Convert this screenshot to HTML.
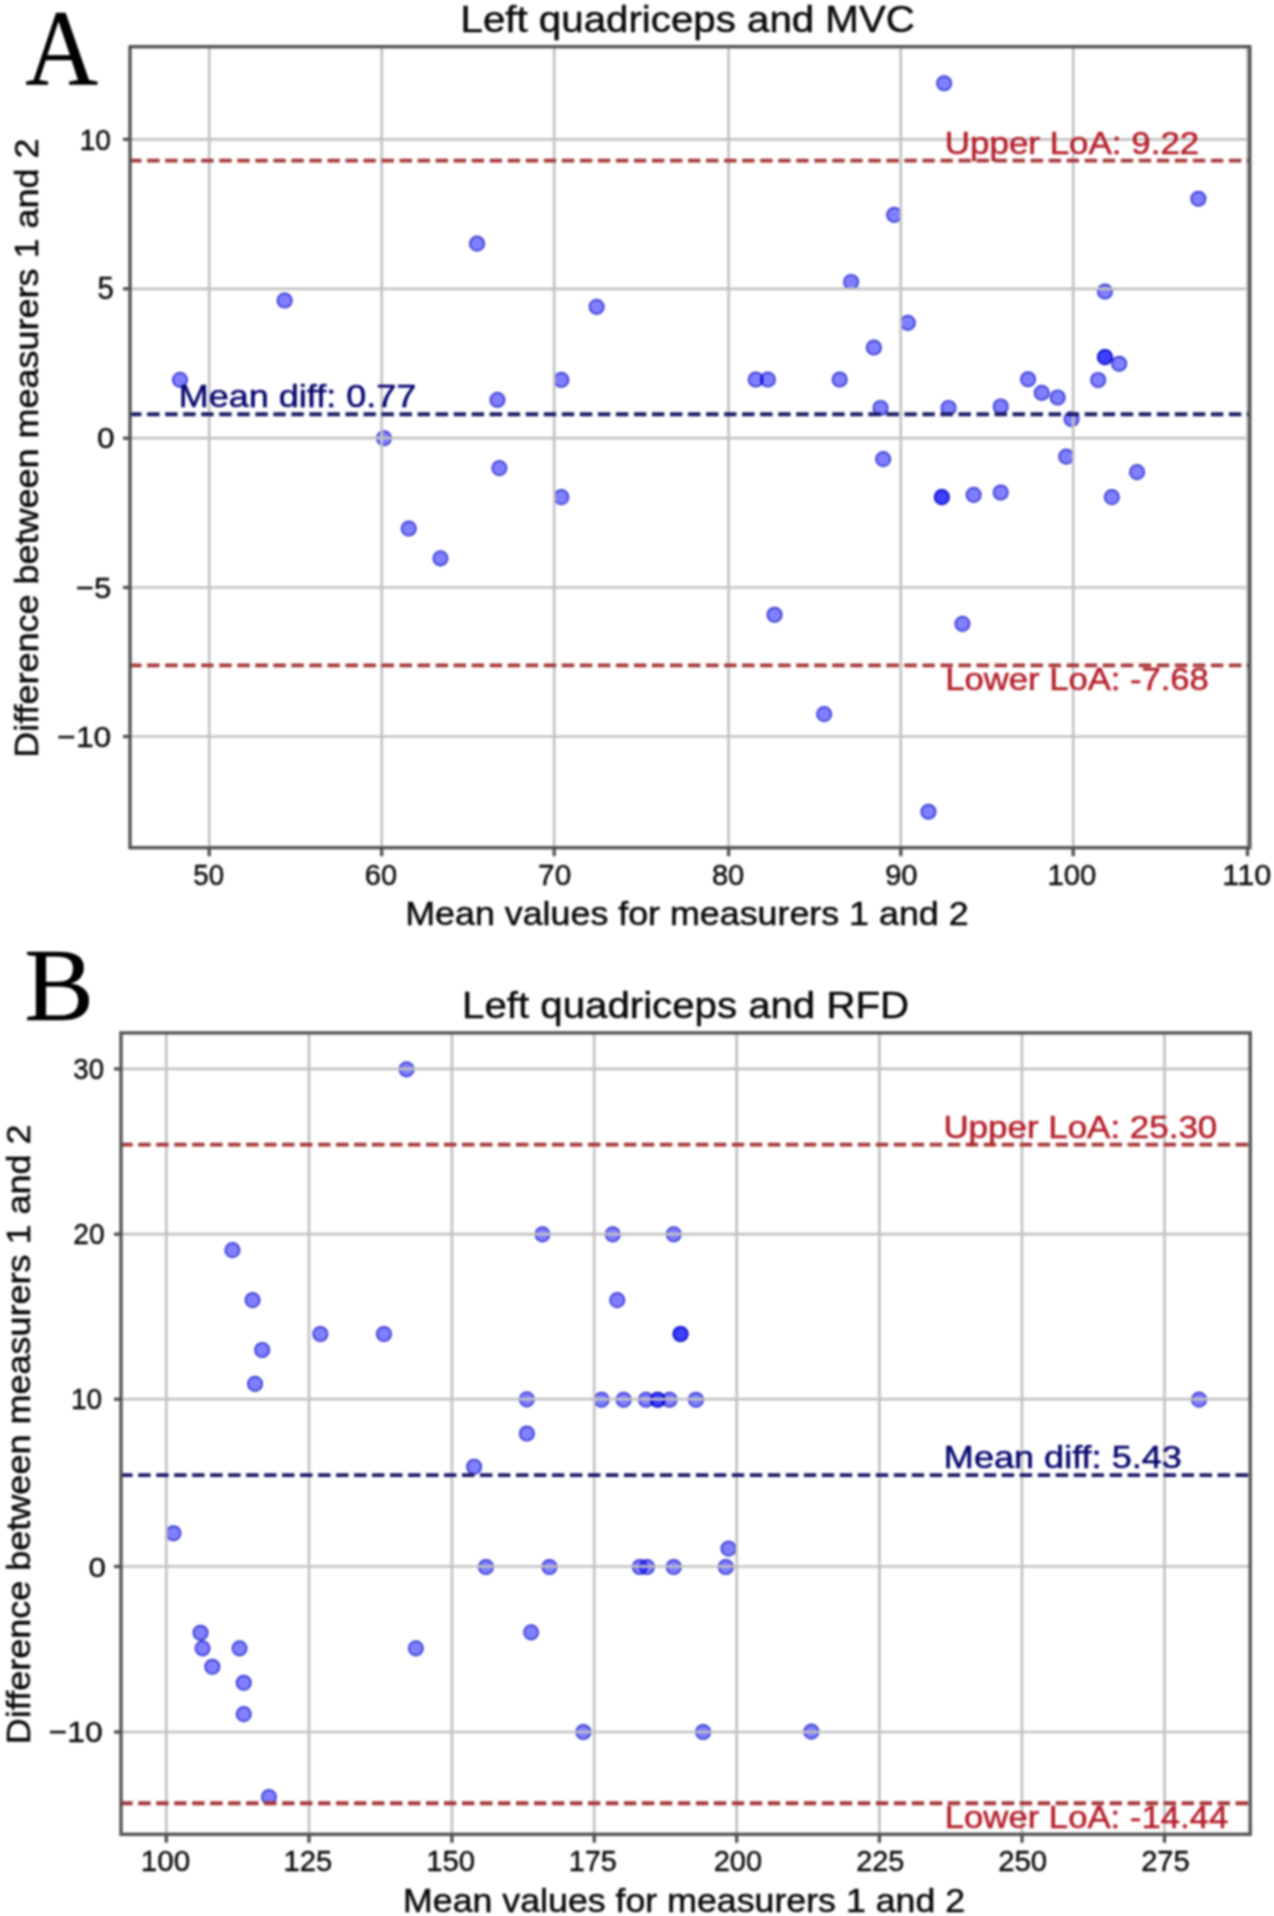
<!DOCTYPE html>
<html><head><meta charset="utf-8"><title>Bland-Altman plots</title><style>html,body{margin:0;padding:0;background:#fff;overflow:hidden}svg{display:block}#wrap{filter:blur(1px)}</style></head><body><div id="wrap">
<svg width="1274" height="1916" viewBox="0 0 1274 1916" font-family="Liberation Sans, sans-serif">
<rect x="0" y="0" width="1274" height="1916" fill="#fff"/>
<circle cx="179.95" cy="379.85" r="7.2" fill="rgba(0,0,255,0.5)" stroke="rgba(0,0,190,0.7)" stroke-width="1.7"/>
<circle cx="284.65" cy="300.55" r="7.2" fill="rgba(0,0,255,0.5)" stroke="rgba(0,0,190,0.7)" stroke-width="1.7"/>
<circle cx="383.95" cy="438.25" r="7.2" fill="rgba(0,0,255,0.5)" stroke="rgba(0,0,190,0.7)" stroke-width="1.7"/>
<circle cx="408.75" cy="528.55" r="7.2" fill="rgba(0,0,255,0.5)" stroke="rgba(0,0,190,0.7)" stroke-width="1.7"/>
<circle cx="440.45" cy="558.35" r="7.2" fill="rgba(0,0,255,0.5)" stroke="rgba(0,0,190,0.7)" stroke-width="1.7"/>
<circle cx="477.05" cy="243.65" r="7.2" fill="rgba(0,0,255,0.5)" stroke="rgba(0,0,190,0.7)" stroke-width="1.7"/>
<circle cx="497.45" cy="399.85" r="7.2" fill="rgba(0,0,255,0.5)" stroke="rgba(0,0,190,0.7)" stroke-width="1.7"/>
<circle cx="499.35" cy="468.15" r="7.2" fill="rgba(0,0,255,0.5)" stroke="rgba(0,0,190,0.7)" stroke-width="1.7"/>
<circle cx="561.35" cy="379.85" r="7.2" fill="rgba(0,0,255,0.5)" stroke="rgba(0,0,190,0.7)" stroke-width="1.7"/>
<circle cx="561.35" cy="497.15" r="7.2" fill="rgba(0,0,255,0.5)" stroke="rgba(0,0,190,0.7)" stroke-width="1.7"/>
<circle cx="596.65" cy="306.85" r="7.2" fill="rgba(0,0,255,0.5)" stroke="rgba(0,0,190,0.7)" stroke-width="1.7"/>
<circle cx="755.75" cy="379.55" r="7.2" fill="rgba(0,0,255,0.5)" stroke="rgba(0,0,190,0.7)" stroke-width="1.7"/>
<circle cx="767.85" cy="379.55" r="7.2" fill="rgba(0,0,255,0.5)" stroke="rgba(0,0,190,0.7)" stroke-width="1.7"/>
<circle cx="774.55" cy="614.75" r="7.2" fill="rgba(0,0,255,0.5)" stroke="rgba(0,0,190,0.7)" stroke-width="1.7"/>
<circle cx="824.15" cy="714.15" r="7.2" fill="rgba(0,0,255,0.5)" stroke="rgba(0,0,190,0.7)" stroke-width="1.7"/>
<circle cx="839.65" cy="379.55" r="7.2" fill="rgba(0,0,255,0.5)" stroke="rgba(0,0,190,0.7)" stroke-width="1.7"/>
<circle cx="851.15" cy="281.95" r="7.2" fill="rgba(0,0,255,0.5)" stroke="rgba(0,0,190,0.7)" stroke-width="1.7"/>
<circle cx="873.85" cy="347.55" r="7.2" fill="rgba(0,0,255,0.5)" stroke="rgba(0,0,190,0.7)" stroke-width="1.7"/>
<circle cx="880.55" cy="407.95" r="7.2" fill="rgba(0,0,255,0.5)" stroke="rgba(0,0,190,0.7)" stroke-width="1.7"/>
<circle cx="883.15" cy="459.15" r="7.2" fill="rgba(0,0,255,0.5)" stroke="rgba(0,0,190,0.7)" stroke-width="1.7"/>
<circle cx="894.15" cy="214.85" r="7.2" fill="rgba(0,0,255,0.5)" stroke="rgba(0,0,190,0.7)" stroke-width="1.7"/>
<circle cx="907.85" cy="322.85" r="7.2" fill="rgba(0,0,255,0.5)" stroke="rgba(0,0,190,0.7)" stroke-width="1.7"/>
<circle cx="928.45" cy="811.75" r="7.2" fill="rgba(0,0,255,0.5)" stroke="rgba(0,0,190,0.7)" stroke-width="1.7"/>
<circle cx="941.85" cy="497.15" r="7.2" fill="rgba(0,0,255,0.5)" stroke="rgba(0,0,190,0.7)" stroke-width="1.7"/>
<circle cx="941.85" cy="497.15" r="7.2" fill="rgba(0,0,255,0.5)" stroke="rgba(0,0,190,0.7)" stroke-width="1.7"/>
<circle cx="944.15" cy="83.25" r="7.2" fill="rgba(0,0,255,0.5)" stroke="rgba(0,0,190,0.7)" stroke-width="1.7"/>
<circle cx="948.55" cy="407.95" r="7.2" fill="rgba(0,0,255,0.5)" stroke="rgba(0,0,190,0.7)" stroke-width="1.7"/>
<circle cx="962.45" cy="623.85" r="7.2" fill="rgba(0,0,255,0.5)" stroke="rgba(0,0,190,0.7)" stroke-width="1.7"/>
<circle cx="973.65" cy="494.85" r="7.2" fill="rgba(0,0,255,0.5)" stroke="rgba(0,0,190,0.7)" stroke-width="1.7"/>
<circle cx="1000.75" cy="406.45" r="7.2" fill="rgba(0,0,255,0.5)" stroke="rgba(0,0,190,0.7)" stroke-width="1.7"/>
<circle cx="1000.75" cy="492.55" r="7.2" fill="rgba(0,0,255,0.5)" stroke="rgba(0,0,190,0.7)" stroke-width="1.7"/>
<circle cx="1028.05" cy="379.25" r="7.2" fill="rgba(0,0,255,0.5)" stroke="rgba(0,0,190,0.7)" stroke-width="1.7"/>
<circle cx="1041.75" cy="392.85" r="7.2" fill="rgba(0,0,255,0.5)" stroke="rgba(0,0,190,0.7)" stroke-width="1.7"/>
<circle cx="1057.65" cy="397.45" r="7.2" fill="rgba(0,0,255,0.5)" stroke="rgba(0,0,190,0.7)" stroke-width="1.7"/>
<circle cx="1066.25" cy="456.65" r="7.2" fill="rgba(0,0,255,0.5)" stroke="rgba(0,0,190,0.7)" stroke-width="1.7"/>
<circle cx="1071.55" cy="419.05" r="7.2" fill="rgba(0,0,255,0.5)" stroke="rgba(0,0,190,0.7)" stroke-width="1.7"/>
<circle cx="1098.15" cy="379.95" r="7.2" fill="rgba(0,0,255,0.5)" stroke="rgba(0,0,190,0.7)" stroke-width="1.7"/>
<circle cx="1104.95" cy="291.55" r="7.2" fill="rgba(0,0,255,0.5)" stroke="rgba(0,0,190,0.7)" stroke-width="1.7"/>
<circle cx="1104.95" cy="357.15" r="7.2" fill="rgba(0,0,255,0.5)" stroke="rgba(0,0,190,0.7)" stroke-width="1.7"/>
<circle cx="1104.95" cy="357.15" r="7.2" fill="rgba(0,0,255,0.5)" stroke="rgba(0,0,190,0.7)" stroke-width="1.7"/>
<circle cx="1111.85" cy="497.15" r="7.2" fill="rgba(0,0,255,0.5)" stroke="rgba(0,0,190,0.7)" stroke-width="1.7"/>
<circle cx="1119.15" cy="363.75" r="7.2" fill="rgba(0,0,255,0.5)" stroke="rgba(0,0,190,0.7)" stroke-width="1.7"/>
<circle cx="1137.05" cy="472.15" r="7.2" fill="rgba(0,0,255,0.5)" stroke="rgba(0,0,190,0.7)" stroke-width="1.7"/>
<circle cx="1198.35" cy="198.75" r="7.2" fill="rgba(0,0,255,0.5)" stroke="rgba(0,0,190,0.7)" stroke-width="1.7"/>
<line x1="209.20" y1="46.7" x2="209.20" y2="847.7" stroke="#c2c2c2" stroke-width="2.7"/>
<line x1="381.70" y1="46.7" x2="381.70" y2="847.7" stroke="#c2c2c2" stroke-width="2.7"/>
<line x1="554.20" y1="46.7" x2="554.20" y2="847.7" stroke="#c2c2c2" stroke-width="2.7"/>
<line x1="728.60" y1="46.7" x2="728.60" y2="847.7" stroke="#c2c2c2" stroke-width="2.7"/>
<line x1="900.80" y1="46.7" x2="900.80" y2="847.7" stroke="#c2c2c2" stroke-width="2.7"/>
<line x1="1073.20" y1="46.7" x2="1073.20" y2="847.7" stroke="#c2c2c2" stroke-width="2.7"/>
<line x1="1247.50" y1="46.7" x2="1247.50" y2="847.7" stroke="#c2c2c2" stroke-width="2.7"/>
<line x1="130" y1="139.40" x2="1249.8" y2="139.40" stroke="#c2c2c2" stroke-width="2.7"/>
<line x1="130" y1="288.80" x2="1249.8" y2="288.80" stroke="#c2c2c2" stroke-width="2.7"/>
<line x1="130" y1="438.20" x2="1249.8" y2="438.20" stroke="#c2c2c2" stroke-width="2.7"/>
<line x1="130" y1="587.50" x2="1249.8" y2="587.50" stroke="#c2c2c2" stroke-width="2.7"/>
<line x1="130" y1="736.50" x2="1249.8" y2="736.50" stroke="#c2c2c2" stroke-width="2.7"/>
<line x1="130" y1="160.60" x2="1249.8" y2="160.60" stroke="#a43638" stroke-width="3.9" stroke-dasharray="12.4 5.63" stroke-dashoffset="0.9"/>
<line x1="130" y1="414.20" x2="1249.8" y2="414.20" stroke="#1a1a66" stroke-width="3.9" stroke-dasharray="12.4 5.63" stroke-dashoffset="0.9"/>
<line x1="130" y1="665.40" x2="1249.8" y2="665.40" stroke="#a43638" stroke-width="3.9" stroke-dasharray="12.4 5.63" stroke-dashoffset="0.9"/>
<rect x="130" y="46.7" width="1119.8" height="801.0" fill="none" stroke="#505050" stroke-width="3.3"/>
<line x1="209.20" y1="847.7" x2="209.20" y2="856.2" stroke="#505050" stroke-width="3.3"/>
<line x1="381.70" y1="847.7" x2="381.70" y2="856.2" stroke="#505050" stroke-width="3.3"/>
<line x1="554.20" y1="847.7" x2="554.20" y2="856.2" stroke="#505050" stroke-width="3.3"/>
<line x1="728.60" y1="847.7" x2="728.60" y2="856.2" stroke="#505050" stroke-width="3.3"/>
<line x1="900.80" y1="847.7" x2="900.80" y2="856.2" stroke="#505050" stroke-width="3.3"/>
<line x1="1073.20" y1="847.7" x2="1073.20" y2="856.2" stroke="#505050" stroke-width="3.3"/>
<line x1="1247.50" y1="847.7" x2="1247.50" y2="856.2" stroke="#505050" stroke-width="3.3"/>
<line x1="123" y1="139.40" x2="130" y2="139.40" stroke="#505050" stroke-width="3.3"/>
<line x1="123" y1="288.80" x2="130" y2="288.80" stroke="#505050" stroke-width="3.3"/>
<line x1="123" y1="438.20" x2="130" y2="438.20" stroke="#505050" stroke-width="3.3"/>
<line x1="123" y1="587.50" x2="130" y2="587.50" stroke="#505050" stroke-width="3.3"/>
<line x1="123" y1="736.50" x2="130" y2="736.50" stroke="#505050" stroke-width="3.3"/>
<circle cx="173.45" cy="1533.25" r="7.2" fill="rgba(0,0,255,0.5)" stroke="rgba(0,0,190,0.7)" stroke-width="1.7"/>
<circle cx="200.55" cy="1632.75" r="7.2" fill="rgba(0,0,255,0.5)" stroke="rgba(0,0,190,0.7)" stroke-width="1.7"/>
<circle cx="202.55" cy="1648.35" r="7.2" fill="rgba(0,0,255,0.5)" stroke="rgba(0,0,190,0.7)" stroke-width="1.7"/>
<circle cx="212.35" cy="1666.75" r="7.2" fill="rgba(0,0,255,0.5)" stroke="rgba(0,0,190,0.7)" stroke-width="1.7"/>
<circle cx="232.45" cy="1250.15" r="7.2" fill="rgba(0,0,255,0.5)" stroke="rgba(0,0,190,0.7)" stroke-width="1.7"/>
<circle cx="239.55" cy="1648.35" r="7.2" fill="rgba(0,0,255,0.5)" stroke="rgba(0,0,190,0.7)" stroke-width="1.7"/>
<circle cx="243.75" cy="1682.75" r="7.2" fill="rgba(0,0,255,0.5)" stroke="rgba(0,0,190,0.7)" stroke-width="1.7"/>
<circle cx="243.75" cy="1714.15" r="7.2" fill="rgba(0,0,255,0.5)" stroke="rgba(0,0,190,0.7)" stroke-width="1.7"/>
<circle cx="252.55" cy="1300.15" r="7.2" fill="rgba(0,0,255,0.5)" stroke="rgba(0,0,190,0.7)" stroke-width="1.7"/>
<circle cx="255.05" cy="1383.85" r="7.2" fill="rgba(0,0,255,0.5)" stroke="rgba(0,0,190,0.7)" stroke-width="1.7"/>
<circle cx="262.15" cy="1349.95" r="7.2" fill="rgba(0,0,255,0.5)" stroke="rgba(0,0,190,0.7)" stroke-width="1.7"/>
<circle cx="268.95" cy="1797.05" r="7.2" fill="rgba(0,0,255,0.5)" stroke="rgba(0,0,190,0.7)" stroke-width="1.7"/>
<circle cx="320.35" cy="1334.05" r="7.2" fill="rgba(0,0,255,0.5)" stroke="rgba(0,0,190,0.7)" stroke-width="1.7"/>
<circle cx="383.95" cy="1334.05" r="7.2" fill="rgba(0,0,255,0.5)" stroke="rgba(0,0,190,0.7)" stroke-width="1.7"/>
<circle cx="406.55" cy="1069.35" r="7.2" fill="rgba(0,0,255,0.5)" stroke="rgba(0,0,190,0.7)" stroke-width="1.7"/>
<circle cx="415.85" cy="1648.35" r="7.2" fill="rgba(0,0,255,0.5)" stroke="rgba(0,0,190,0.7)" stroke-width="1.7"/>
<circle cx="474.15" cy="1466.75" r="7.2" fill="rgba(0,0,255,0.5)" stroke="rgba(0,0,190,0.7)" stroke-width="1.7"/>
<circle cx="485.95" cy="1567.05" r="7.2" fill="rgba(0,0,255,0.5)" stroke="rgba(0,0,190,0.7)" stroke-width="1.7"/>
<circle cx="526.85" cy="1399.35" r="7.2" fill="rgba(0,0,255,0.5)" stroke="rgba(0,0,190,0.7)" stroke-width="1.7"/>
<circle cx="526.85" cy="1433.55" r="7.2" fill="rgba(0,0,255,0.5)" stroke="rgba(0,0,190,0.7)" stroke-width="1.7"/>
<circle cx="531.15" cy="1632.35" r="7.2" fill="rgba(0,0,255,0.5)" stroke="rgba(0,0,190,0.7)" stroke-width="1.7"/>
<circle cx="542.45" cy="1234.35" r="7.2" fill="rgba(0,0,255,0.5)" stroke="rgba(0,0,190,0.7)" stroke-width="1.7"/>
<circle cx="549.45" cy="1567.05" r="7.2" fill="rgba(0,0,255,0.5)" stroke="rgba(0,0,190,0.7)" stroke-width="1.7"/>
<circle cx="583.35" cy="1732.05" r="7.2" fill="rgba(0,0,255,0.5)" stroke="rgba(0,0,190,0.7)" stroke-width="1.7"/>
<circle cx="601.55" cy="1399.75" r="7.2" fill="rgba(0,0,255,0.5)" stroke="rgba(0,0,190,0.7)" stroke-width="1.7"/>
<circle cx="612.75" cy="1234.35" r="7.2" fill="rgba(0,0,255,0.5)" stroke="rgba(0,0,190,0.7)" stroke-width="1.7"/>
<circle cx="617.25" cy="1300.15" r="7.2" fill="rgba(0,0,255,0.5)" stroke="rgba(0,0,190,0.7)" stroke-width="1.7"/>
<circle cx="623.65" cy="1399.75" r="7.2" fill="rgba(0,0,255,0.5)" stroke="rgba(0,0,190,0.7)" stroke-width="1.7"/>
<circle cx="639.85" cy="1567.05" r="7.2" fill="rgba(0,0,255,0.5)" stroke="rgba(0,0,190,0.7)" stroke-width="1.7"/>
<circle cx="646.05" cy="1399.75" r="7.2" fill="rgba(0,0,255,0.5)" stroke="rgba(0,0,190,0.7)" stroke-width="1.7"/>
<circle cx="646.95" cy="1567.05" r="7.2" fill="rgba(0,0,255,0.5)" stroke="rgba(0,0,190,0.7)" stroke-width="1.7"/>
<circle cx="657.75" cy="1399.75" r="7.2" fill="rgba(0,0,255,0.5)" stroke="rgba(0,0,190,0.7)" stroke-width="1.7"/>
<circle cx="657.75" cy="1399.75" r="7.2" fill="rgba(0,0,255,0.5)" stroke="rgba(0,0,190,0.7)" stroke-width="1.7"/>
<circle cx="669.55" cy="1399.75" r="7.2" fill="rgba(0,0,255,0.5)" stroke="rgba(0,0,190,0.7)" stroke-width="1.7"/>
<circle cx="673.75" cy="1234.35" r="7.2" fill="rgba(0,0,255,0.5)" stroke="rgba(0,0,190,0.7)" stroke-width="1.7"/>
<circle cx="673.75" cy="1567.05" r="7.2" fill="rgba(0,0,255,0.5)" stroke="rgba(0,0,190,0.7)" stroke-width="1.7"/>
<circle cx="680.55" cy="1334.05" r="7.2" fill="rgba(0,0,255,0.5)" stroke="rgba(0,0,190,0.7)" stroke-width="1.7"/>
<circle cx="680.55" cy="1334.05" r="7.2" fill="rgba(0,0,255,0.5)" stroke="rgba(0,0,190,0.7)" stroke-width="1.7"/>
<circle cx="695.95" cy="1399.75" r="7.2" fill="rgba(0,0,255,0.5)" stroke="rgba(0,0,190,0.7)" stroke-width="1.7"/>
<circle cx="703.15" cy="1732.05" r="7.2" fill="rgba(0,0,255,0.5)" stroke="rgba(0,0,190,0.7)" stroke-width="1.7"/>
<circle cx="725.85" cy="1567.05" r="7.2" fill="rgba(0,0,255,0.5)" stroke="rgba(0,0,190,0.7)" stroke-width="1.7"/>
<circle cx="728.55" cy="1548.65" r="7.2" fill="rgba(0,0,255,0.5)" stroke="rgba(0,0,190,0.7)" stroke-width="1.7"/>
<circle cx="811.35" cy="1731.65" r="7.2" fill="rgba(0,0,255,0.5)" stroke="rgba(0,0,190,0.7)" stroke-width="1.7"/>
<circle cx="1199.05" cy="1399.65" r="7.2" fill="rgba(0,0,255,0.5)" stroke="rgba(0,0,190,0.7)" stroke-width="1.7"/>
<line x1="166.30" y1="1032.9" x2="166.30" y2="1834.3" stroke="#c2c2c2" stroke-width="2.7"/>
<line x1="309.00" y1="1032.9" x2="309.00" y2="1834.3" stroke="#c2c2c2" stroke-width="2.7"/>
<line x1="451.90" y1="1032.9" x2="451.90" y2="1834.3" stroke="#c2c2c2" stroke-width="2.7"/>
<line x1="594.25" y1="1032.9" x2="594.25" y2="1834.3" stroke="#c2c2c2" stroke-width="2.7"/>
<line x1="736.70" y1="1032.9" x2="736.70" y2="1834.3" stroke="#c2c2c2" stroke-width="2.7"/>
<line x1="879.40" y1="1032.9" x2="879.40" y2="1834.3" stroke="#c2c2c2" stroke-width="2.7"/>
<line x1="1022.00" y1="1032.9" x2="1022.00" y2="1834.3" stroke="#c2c2c2" stroke-width="2.7"/>
<line x1="1164.50" y1="1032.9" x2="1164.50" y2="1834.3" stroke="#c2c2c2" stroke-width="2.7"/>
<line x1="121" y1="1068.90" x2="1250.2" y2="1068.90" stroke="#c2c2c2" stroke-width="2.7"/>
<line x1="121" y1="1234.20" x2="1250.2" y2="1234.20" stroke="#c2c2c2" stroke-width="2.7"/>
<line x1="121" y1="1399.20" x2="1250.2" y2="1399.20" stroke="#c2c2c2" stroke-width="2.7"/>
<line x1="121" y1="1566.50" x2="1250.2" y2="1566.50" stroke="#c2c2c2" stroke-width="2.7"/>
<line x1="121" y1="1732.00" x2="1250.2" y2="1732.00" stroke="#c2c2c2" stroke-width="2.7"/>
<line x1="121" y1="1144.60" x2="1250.2" y2="1144.60" stroke="#a43638" stroke-width="3.9" stroke-dasharray="12.4 5.59" stroke-dashoffset="0.8"/>
<line x1="121" y1="1475.10" x2="1250.2" y2="1475.10" stroke="#1a1a66" stroke-width="3.9" stroke-dasharray="12.4 5.59" stroke-dashoffset="0.8"/>
<line x1="121" y1="1803.20" x2="1250.2" y2="1803.20" stroke="#a43638" stroke-width="3.9" stroke-dasharray="12.4 5.59" stroke-dashoffset="0.8"/>
<rect x="121" y="1032.9" width="1129.2" height="801.3999999999999" fill="none" stroke="#505050" stroke-width="3.3"/>
<line x1="166.30" y1="1834.3" x2="166.30" y2="1842.8" stroke="#505050" stroke-width="3.3"/>
<line x1="309.00" y1="1834.3" x2="309.00" y2="1842.8" stroke="#505050" stroke-width="3.3"/>
<line x1="451.90" y1="1834.3" x2="451.90" y2="1842.8" stroke="#505050" stroke-width="3.3"/>
<line x1="594.25" y1="1834.3" x2="594.25" y2="1842.8" stroke="#505050" stroke-width="3.3"/>
<line x1="736.70" y1="1834.3" x2="736.70" y2="1842.8" stroke="#505050" stroke-width="3.3"/>
<line x1="879.40" y1="1834.3" x2="879.40" y2="1842.8" stroke="#505050" stroke-width="3.3"/>
<line x1="1022.00" y1="1834.3" x2="1022.00" y2="1842.8" stroke="#505050" stroke-width="3.3"/>
<line x1="1164.50" y1="1834.3" x2="1164.50" y2="1842.8" stroke="#505050" stroke-width="3.3"/>
<line x1="114" y1="1068.90" x2="121" y2="1068.90" stroke="#505050" stroke-width="3.3"/>
<line x1="114" y1="1234.20" x2="121" y2="1234.20" stroke="#505050" stroke-width="3.3"/>
<line x1="114" y1="1399.20" x2="121" y2="1399.20" stroke="#505050" stroke-width="3.3"/>
<line x1="114" y1="1566.50" x2="121" y2="1566.50" stroke="#505050" stroke-width="3.3"/>
<line x1="114" y1="1732.00" x2="121" y2="1732.00" stroke="#505050" stroke-width="3.3"/>
<text x="193.29" y="885.01" font-size="29.38" textLength="30.79" lengthAdjust="spacingAndGlyphs" fill="#0a0a0a" stroke="#0a0a0a" stroke-width="0.4">50</text>
<text x="364.83" y="885.01" font-size="29.38" textLength="32.20" lengthAdjust="spacingAndGlyphs" fill="#0a0a0a" stroke="#0a0a0a" stroke-width="0.4">60</text>
<text x="538.07" y="885.01" font-size="29.38" textLength="33.20" lengthAdjust="spacingAndGlyphs" fill="#0a0a0a" stroke="#0a0a0a" stroke-width="0.4">70</text>
<text x="711.93" y="885.01" font-size="29.38" textLength="32.40" lengthAdjust="spacingAndGlyphs" fill="#0a0a0a" stroke="#0a0a0a" stroke-width="0.4">80</text>
<text x="885.13" y="885.01" font-size="29.38" textLength="32.51" lengthAdjust="spacingAndGlyphs" fill="#0a0a0a" stroke="#0a0a0a" stroke-width="0.4">90</text>
<text x="1047.46" y="885.01" font-size="29.38" textLength="48.98" lengthAdjust="spacingAndGlyphs" fill="#0a0a0a" stroke="#0a0a0a" stroke-width="0.4">100</text>
<text x="1222.37" y="885.01" font-size="29.38" textLength="48.88" lengthAdjust="spacingAndGlyphs" fill="#0a0a0a" stroke="#0a0a0a" stroke-width="0.4">110</text>
<text x="140.74" y="1871.41" font-size="29.38" textLength="49.41" lengthAdjust="spacingAndGlyphs" fill="#0a0a0a" stroke="#0a0a0a" stroke-width="0.4">100</text>
<text x="283.48" y="1871.41" font-size="29.38" textLength="48.65" lengthAdjust="spacingAndGlyphs" fill="#0a0a0a" stroke="#0a0a0a" stroke-width="0.4">125</text>
<text x="426.17" y="1871.41" font-size="29.38" textLength="48.88" lengthAdjust="spacingAndGlyphs" fill="#0a0a0a" stroke="#0a0a0a" stroke-width="0.4">150</text>
<text x="568.81" y="1871.41" font-size="29.81" textLength="48.00" lengthAdjust="spacingAndGlyphs" fill="#0a0a0a" stroke="#0a0a0a" stroke-width="0.4">175</text>
<text x="713.64" y="1871.41" font-size="29.38" textLength="48.39" lengthAdjust="spacingAndGlyphs" fill="#0a0a0a" stroke="#0a0a0a" stroke-width="0.4">200</text>
<text x="856.15" y="1871.41" font-size="29.38" textLength="48.06" lengthAdjust="spacingAndGlyphs" fill="#0a0a0a" stroke="#0a0a0a" stroke-width="0.4">225</text>
<text x="998.13" y="1871.41" font-size="29.38" textLength="48.92" lengthAdjust="spacingAndGlyphs" fill="#0a0a0a" stroke="#0a0a0a" stroke-width="0.4">250</text>
<text x="1141.14" y="1871.41" font-size="29.38" textLength="48.48" lengthAdjust="spacingAndGlyphs" fill="#0a0a0a" stroke="#0a0a0a" stroke-width="0.4">275</text>
<text x="79.76" y="149.81" font-size="29.66" textLength="31.24" lengthAdjust="spacingAndGlyphs" fill="#0a0a0a" stroke="#0a0a0a" stroke-width="0.4">10</text>
<text x="97.43" y="299.20" font-size="31.10" textLength="16.30" lengthAdjust="spacingAndGlyphs" fill="#0a0a0a" stroke="#0a0a0a" stroke-width="0.4">5</text>
<text x="96.97" y="447.82" font-size="29.10" textLength="17.57" lengthAdjust="spacingAndGlyphs" fill="#0a0a0a" stroke="#0a0a0a" stroke-width="0.4">0</text>
<text x="75.86" y="597.91" font-size="30.10" textLength="35.55" lengthAdjust="spacingAndGlyphs" fill="#0a0a0a" stroke="#0a0a0a" stroke-width="0.4">−5</text>
<text x="57.33" y="746.92" font-size="29.10" textLength="54.01" lengthAdjust="spacingAndGlyphs" fill="#0a0a0a" stroke="#0a0a0a" stroke-width="0.4">−10</text>
<text x="73.35" y="1079.12" font-size="29.10" textLength="30.73" lengthAdjust="spacingAndGlyphs" fill="#0a0a0a" stroke="#0a0a0a" stroke-width="0.4">30</text>
<text x="73.18" y="1244.01" font-size="30.08" textLength="31.42" lengthAdjust="spacingAndGlyphs" fill="#0a0a0a" stroke="#0a0a0a" stroke-width="0.4">20</text>
<text x="70.96" y="1409.41" font-size="29.66" textLength="31.24" lengthAdjust="spacingAndGlyphs" fill="#0a0a0a" stroke="#0a0a0a" stroke-width="0.4">10</text>
<text x="88.47" y="1576.52" font-size="28.39" textLength="17.45" lengthAdjust="spacingAndGlyphs" fill="#0a0a0a" stroke="#0a0a0a" stroke-width="0.4">0</text>
<text x="48.63" y="1742.31" font-size="29.80" textLength="54.01" lengthAdjust="spacingAndGlyphs" fill="#0a0a0a" stroke="#0a0a0a" stroke-width="0.4">−10</text>
<text x="460.50" y="31.80" font-size="37.79" textLength="454.34" lengthAdjust="spacingAndGlyphs" fill="#0a0a0a" stroke="#0a0a0a" stroke-width="0.5">Left quadriceps and MVC</text>
<text x="462.10" y="1017.60" font-size="37.79" textLength="446.92" lengthAdjust="spacingAndGlyphs" fill="#0a0a0a" stroke="#0a0a0a" stroke-width="0.5">Left quadriceps and RFD</text>
<text x="405.26" y="925.40" font-size="32.85" textLength="563.34" lengthAdjust="spacingAndGlyphs" fill="#0a0a0a" stroke="#0a0a0a" stroke-width="0.5">Mean values for measurers 1 and 2</text>
<text x="403.07" y="1911.60" font-size="32.85" textLength="562.03" lengthAdjust="spacingAndGlyphs" fill="#0a0a0a" stroke="#0a0a0a" stroke-width="0.5">Mean values for measurers 1 and 2</text>
<g transform="translate(38.45,754.80) rotate(-90)"><text x="-2.95" y="0.00" font-size="32.85" textLength="619.26" lengthAdjust="spacingAndGlyphs" fill="#0a0a0a" stroke="#0a0a0a" stroke-width="0.5">Difference between measurers 1 and 2</text></g>
<g transform="translate(29.85,1741.20) rotate(-90)"><text x="-2.95" y="0.00" font-size="32.85" textLength="619.76" lengthAdjust="spacingAndGlyphs" fill="#0a0a0a" stroke="#0a0a0a" stroke-width="0.5">Difference between measurers 1 and 2</text></g>
<text x="944.80" y="153.55" font-size="31.40" textLength="254.45" lengthAdjust="spacingAndGlyphs" fill="#b41e2a" stroke="#b41e2a" stroke-width="0.5">Upper LoA: 9.22</text>
<text x="945.36" y="689.90" font-size="31.40" textLength="263.44" lengthAdjust="spacingAndGlyphs" fill="#b41e2a" stroke="#b41e2a" stroke-width="0.5">Lower LoA: -7.68</text>
<text x="178.76" y="406.50" font-size="31.40" textLength="237.45" lengthAdjust="spacingAndGlyphs" fill="#06066e" stroke="#06066e" stroke-width="0.5">Mean diff: 0.77</text>
<text x="943.40" y="1138.40" font-size="31.40" textLength="273.86" lengthAdjust="spacingAndGlyphs" fill="#b41e2a" stroke="#b41e2a" stroke-width="0.5">Upper LoA: 25.30</text>
<text x="943.85" y="1467.80" font-size="31.40" textLength="238.03" lengthAdjust="spacingAndGlyphs" fill="#06066e" stroke="#06066e" stroke-width="0.5">Mean diff: 5.43</text>
<text x="944.75" y="1827.80" font-size="31.40" textLength="283.46" lengthAdjust="spacingAndGlyphs" fill="#b41e2a" stroke="#b41e2a" stroke-width="0.5">Lower LoA: -14.44</text>
<text x="25.32" y="85.20" font-size="107.10" textLength="72.72" lengthAdjust="spacingAndGlyphs" fill="#000" stroke="#000" stroke-width="0.4" font-family="Liberation Serif, serif">A</text>
<text x="24.29" y="1019.59" font-size="104.76" textLength="69.71" lengthAdjust="spacingAndGlyphs" fill="#000" stroke="#000" stroke-width="0.4" font-family="Liberation Serif, serif">B</text>
</svg>
</div></body></html>
